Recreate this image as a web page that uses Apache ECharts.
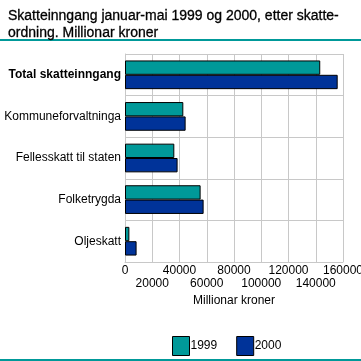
<!DOCTYPE html>
<html>
<head>
<meta charset="utf-8">
<script src="https://cdn.jsdelivr.net/npm/echarts@6/dist/echarts.min.js"></script>
<style>html,body{margin:0;padding:0;background:#fff}#c{width:361px;height:361px}</style>
</head>
<body>
<div id="c"></div>
<script>
const categories = ['Total skatteinngang', 'Kommuneforvaltninga', 'Fellesskatt til staten', 'Folketrygda', 'Oljeskatt'];
const values1999 = [143300, 42800, 36200, 55500, 3200];
const values2000 = [156100, 44500, 38600, 57700, 8500];
const seriesNames = ['1999', '2000'];
const titleText = 'Skatteinngang januar-mai 1999 og 2000, etter skatte-\nordning. Millionar kroner';
const axisTitle = 'Millionar kroner';
const xMin = 0, xMax = 160000, xStep = 20000;

const FONT = '"Liberation Sans", Arial, sans-serif';
const chart = echarts.init(document.getElementById('c'), null, {renderer: 'canvas'});

function xAxisCfg(parity, show) {
  return {
    type: 'value', min: xMin, max: xMax, interval: xStep, position: 'bottom',
    offset: parity === 0 ? 0 : 13,
    name: show ? axisTitle : '', nameLocation: 'middle', nameGap: 19,
    nameTextStyle: {fontFamily: FONT, fontSize: 12, color: '#000'},
    axisLine: {show: parity === 0, lineStyle: {color: '#c8c8c8'}},
    axisTick: {show: false},
    splitLine: {show: parity === 0, lineStyle: {color: '#c8c8c8'}},
    axisLabel: {
      fontFamily: FONT, fontSize: 12, color: '#000', margin: 3,
      showMaxLabel: true, showMinLabel: true, hideOverlap: false,
      formatter: function (v) { return (Math.round(v / xStep) % 2 === parity) ? String(v) : ''; }
    }
  };
}

chart.setOption({
  animation: false,
  textStyle: {fontFamily: FONT},
  title: {
    text: titleText, left: 3, top: 3,
    textStyle: {fontFamily: FONT, fontSize: 14, fontWeight: 'normal', color: '#000', lineHeight: 17,
                textBorderColor: '#000', textBorderWidth: 0.3}
  },
  graphic: [
    {type: 'rect', shape: {x: 0, y: 39, width: 361, height: 2}, style: {fill: '#009999'}},
    {type: 'rect', shape: {x: 0, y: 359, width: 361, height: 2}, style: {fill: '#009999'}}
  ],
  grid: {left: 125, right: 18, top: 54, bottom: 99, containLabel: false, outerBoundsMode: 'none'},
  legend: {
    data: seriesNames, left: 167, top: 331, itemWidth: 17, itemHeight: 19, itemGap: 19,
    icon: 'rect',
    textStyle: {fontFamily: FONT, fontSize: 12, color: '#000', padding: [0, 0, 0, -4]},
    itemStyle: {borderColor: '#000', borderWidth: 1}
  },
  xAxis: [xAxisCfg(0, false), xAxisCfg(1, true)],
  yAxis: {
    type: 'category', data: categories, inverse: true,
    axisLine: {show: true, lineStyle: {color: '#c8c8c8'}},
    axisTick: {show: false},
    splitLine: {show: true, lineStyle: {color: '#c8c8c8'}},
    axisLabel: {
      fontFamily: FONT, fontSize: 12, color: '#000', margin: 4,
      formatter: function (v, i) { return i === 0 ? '{b|' + v + '}' : v; },
      rich: {b: {fontFamily: FONT, fontSize: 12, fontWeight: 'bold', color: '#000'}}
    }
  },
  series: [
    {name: seriesNames[0], type: 'bar', xAxisIndex: 0, data: values1999, barGap: '0%', barCategoryGap: '31%',
     itemStyle: {color: '#009999', borderColor: '#000', borderWidth: 1}},
    {name: seriesNames[1], type: 'bar', xAxisIndex: 0, data: values2000, barGap: '0%', barCategoryGap: '31%',
     itemStyle: {color: '#003399', borderColor: '#000', borderWidth: 1}}
  ]
});
</script>
</body>
</html>
